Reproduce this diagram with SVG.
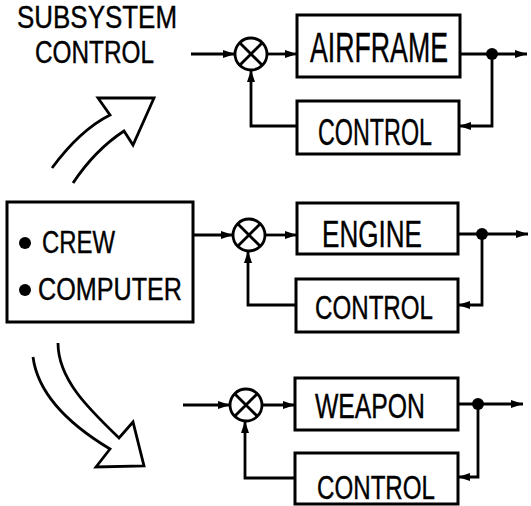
<svg xmlns="http://www.w3.org/2000/svg" width="531" height="506" viewBox="0 0 531 506">
  <defs>
    <marker id="arrow" viewBox="0 0 12 8" refX="12" refY="4" markerWidth="12" markerHeight="8" markerUnits="userSpaceOnUse" orient="auto">
      <path d="M0,0 L12,4 L0,8 z" fill="#000"/>
    </marker>
  </defs>
  <style>
    .box{fill:#fff;stroke:#000;stroke-width:3}
    .line{fill:none;stroke:#000;stroke-width:2.8;stroke-linejoin:miter}
    .big{fill:none;stroke:#000;stroke-width:2.8;stroke-linejoin:miter}
    .lbl{font-family:"Liberation Sans",Arial,sans-serif;fill:#000;stroke:#000;stroke-width:0.4}
    .sum{fill:#fff;stroke:#000;stroke-width:2.8}
    .x{stroke:#000;stroke-width:2.8}
    .dot{fill:#000}
  </style>

  <!-- title -->
  <g id="title">
    <text class="lbl" x="17" y="28" font-size="32" textLength="160" lengthAdjust="spacingAndGlyphs">SUBSYSTEM</text>
    <text class="lbl" x="35" y="63" font-size="32" textLength="119" lengthAdjust="spacingAndGlyphs">CONTROL</text>
  </g>

  <!-- operator block -->
  <g id="operator">
    <rect class="box" x="7" y="202" width="186" height="120"/>
    <circle class="dot" cx="25" cy="243" r="6"/>
    <text class="lbl" x="42" y="253" font-size="32" textLength="73" lengthAdjust="spacingAndGlyphs">CREW</text>
    <circle class="dot" cx="25" cy="290" r="6"/>
    <text class="lbl" x="38" y="300" font-size="32" textLength="144" lengthAdjust="spacingAndGlyphs">COMPUTER</text>
  </g>

  <!-- airframe loop -->
  <g id="sum-airframe">
    <circle class="sum" cx="251" cy="54" r="16"/>
    <path class="x" d="M239.7,42.7 L262.3,65.3 M262.3,42.7 L239.7,65.3"/>
  </g>
  <g id="airframe">
    <rect class="box" x="297" y="15" width="163" height="62"/>
    <text class="lbl" x="310" y="62" font-size="43" textLength="138" lengthAdjust="spacingAndGlyphs">AIRFRAME</text>
  </g>
  <g id="control-airframe">
    <rect class="box" x="297" y="101" width="162" height="53"/>
    <text class="lbl" x="318" y="145" font-size="37" textLength="114" lengthAdjust="spacingAndGlyphs">CONTROL</text>
  </g>

  <!-- engine loop -->
  <g id="sum-engine">
    <circle class="sum" cx="249" cy="235" r="16"/>
    <path class="x" d="M237.7,223.7 L260.3,246.3 M260.3,223.7 L237.7,246.3"/>
  </g>
  <g id="engine">
    <rect class="box" x="297" y="203" width="161" height="51"/>
    <text class="lbl" x="322" y="247" font-size="37" textLength="100" lengthAdjust="spacingAndGlyphs">ENGINE</text>
  </g>
  <g id="control-engine">
    <rect class="box" x="296" y="279" width="162" height="53"/>
    <text class="lbl" x="315" y="319" font-size="34" textLength="118" lengthAdjust="spacingAndGlyphs">CONTROL</text>
  </g>

  <!-- weapon loop -->
  <g id="sum-weapon">
    <circle class="sum" cx="246" cy="405" r="16"/>
    <path class="x" d="M234.7,393.7 L257.3,416.3 M257.3,393.7 L234.7,416.3"/>
  </g>
  <g id="weapon">
    <rect class="box" x="295" y="378" width="163" height="52"/>
    <text class="lbl" x="315" y="418" font-size="35" textLength="110" lengthAdjust="spacingAndGlyphs">WEAPON</text>
  </g>
  <g id="control-weapon">
    <rect class="box" x="295" y="453" width="163" height="51"/>
    <text class="lbl" x="317" y="499" font-size="34" textLength="118" lengthAdjust="spacingAndGlyphs">CONTROL</text>
  </g>

  <!-- hollow curved arrows -->
  <g id="arrow-up">
    <path class="big" d="M52,168 Q80,130 110,115 L98,98 L154,98 L133,145 L124,131 Q95,150 73,183"/>
  </g>
  <g id="arrow-down">
    <path class="big" d="M33,357 C38,395 70,425 110,449 L96,467 L144,466 L133,422 L119,438 C90,410 58,380 58,343"/>
  </g>

  <!-- connectors -->
  <g id="connectors">
    <!-- airframe -->
    <path class="line" d="M191,54 L235,54" marker-end="url(#arrow)"/>
    <path class="line" d="M267,54 L297,54" marker-end="url(#arrow)"/>
    <path class="line" d="M460,54 L527,54" marker-end="url(#arrow)"/>
    <path class="line" d="M492,54 L492,126 L459,126" marker-end="url(#arrow)"/>
    <path class="line" d="M297,126 L251,126 L251,70" marker-end="url(#arrow)"/>
    <circle class="dot" cx="492" cy="54" r="6"/>
    <!-- engine -->
    <path class="line" d="M193,235 L233,235" marker-end="url(#arrow)"/>
    <path class="line" d="M265,235 L297,235" marker-end="url(#arrow)"/>
    <path class="line" d="M458,234 L528,234" marker-end="url(#arrow)"/>
    <path class="line" d="M482,234 L482,305 L458,305" marker-end="url(#arrow)"/>
    <path class="line" d="M296,305 L248,305 L248,251" marker-end="url(#arrow)"/>
    <circle class="dot" cx="482" cy="234" r="6"/>
    <!-- weapon -->
    <path class="line" d="M183,405 L230,405" marker-end="url(#arrow)"/>
    <path class="line" d="M262,405 L295,405" marker-end="url(#arrow)"/>
    <path class="line" d="M458,404 L523,404" marker-end="url(#arrow)"/>
    <path class="line" d="M478,404 L478,477 L458,477" marker-end="url(#arrow)"/>
    <path class="line" d="M295,478 L245,478 L245,421" marker-end="url(#arrow)"/>
    <circle class="dot" cx="478" cy="404" r="6"/>
  </g>
</svg>
